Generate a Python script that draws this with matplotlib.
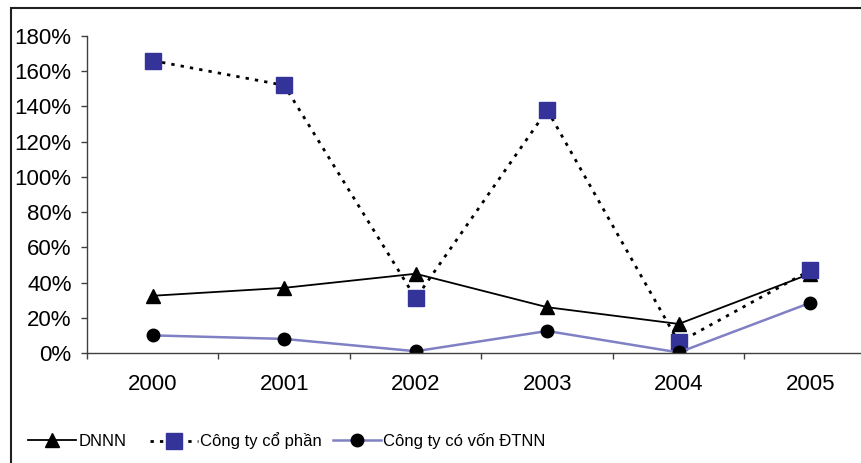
import matplotlib
matplotlib.use("Agg")
import matplotlib.pyplot as plt
from matplotlib.ticker import PercentFormatter, FixedLocator
from matplotlib.patches import Rectangle

years = ["2000", "2001", "2002", "2003", "2004", "2005"]
dnnn = [0.325, 0.37, 0.45, 0.26, 0.165, 0.45]
co_phan = [1.66, 1.52, 0.31, 1.38, 0.06, 0.47]
dtnn = [0.10, 0.08, 0.01, 0.125, 0.003, 0.285]

plt.rcParams['font.family'] = ['Liberation Sans', 'DejaVu Sans']

W, H = 862, 463
fig = plt.figure(figsize=(W / 100, H / 100), dpi=100)
ax = fig.add_axes([87 / W, (H - 353) / H, (876 - 87) / W, (353 - 36) / H])

x = list(range(len(years)))
l1, = ax.plot(x, dnnn, color='black', lw=1.3, marker='^', ms=10.5, label='DNNN')
l2, = ax.plot(x, co_phan, color='black', lw=2, linestyle=(0, (1.2, 2.2)),
              marker='s', ms=11, mfc='#333399', mec='#333399', label='Công ty cổ phần')
l3, = ax.plot(x, dtnn, color='#8080c4', lw=1.8, marker='o', ms=9,
              mfc='black', mec='black', label='Công ty có vốn ĐTNN')

ax.set_xlim(-0.5, len(years) - 0.5)
ax.set_ylim(0, 1.8)
ax.yaxis.set_major_locator(FixedLocator([i * 0.2 for i in range(10)]))
ax.yaxis.set_major_formatter(PercentFormatter(xmax=1, decimals=0))

ax.set_xticks(x)
ax.set_xticklabels(years)
ax.set_xticks([i - 0.5 for i in range(len(years) + 1)], minor=True)
ax.tick_params(axis='x', which='major', length=0, pad=15, labelsize=16)
ax.tick_params(axis='x', which='minor', length=4, width=1, color='#404040')
ax.tick_params(axis='y', length=4, width=1, pad=7, labelsize=16, color='#404040')

for s in ['top', 'right']:
    ax.spines[s].set_visible(False)
for s in ['left', 'bottom']:
    ax.spines[s].set_color('#404040')
    ax.spines[s].set_linewidth(1)

# chart area border (cut off at the right and bottom of the image)
fig.patches.append(Rectangle((11 / W, -0.1), 1.2, (H - 8) / H + 0.1,
                             transform=fig.transFigure, fill=False,
                             edgecolor='#202020', lw=1.5))

# legend entries placed one by one, like the Excel legend
for line, x0 in [(l1, 28), (l2, 150), (l3, 333)]:
    fig.legend(handles=[line], loc='center left', bbox_to_anchor=(x0 / W, 22 / H),
               frameon=False, borderpad=0, borderaxespad=0,
               handlelength=2.9, handletextpad=0.12, fontsize=12)

fig.savefig('out.png', dpi=100)
